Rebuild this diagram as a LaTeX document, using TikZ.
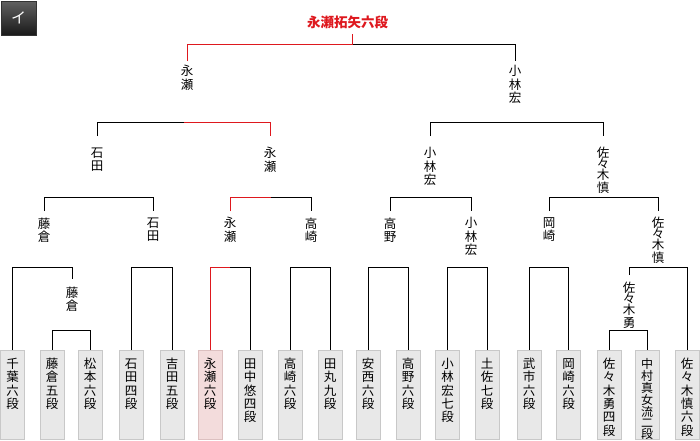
\documentclass[tikz,border=0pt]{standalone}
\usepackage{fontspec}
\usetikzlibrary{calc}
\newfontfamily\jp{Noto Sans CJK JP}
\newcommand\lblfont{\jp\fontsize{12.5}{13.3}\selectfont}
\newcommand\tightfont{\jp\fontsize{12.5}{11}\selectfont}
\newcommand\longfont{\jp\fontsize{12}{10.9}\selectfont}
\newcommand\titlefont{\jp\bfseries\fontsize{13.5}{14}\selectfont}
\definecolor{winred}{RGB}{222,24,30}
\definecolor{boxfill}{RGB}{232,232,232}
\definecolor{boxline}{RGB}{200,200,200}
\definecolor{pinkfill}{RGB}{243,220,220}
\definecolor{pinkline}{RGB}{220,192,192}
\tikzset{
  lbl/.style={font=\lblfont,align=center,anchor=north,inner xsep=0pt,inner ysep=6pt},
  tight/.style={font=\tightfont},
  player/.style={draw=boxline,fill=boxfill,font=\lblfont,text width=13pt,align=center,anchor=north,minimum width=24pt,inner xsep=0pt,inner ysep=7pt,text height=11pt,text depth=64pt},
  winbox/.style={draw=pinkline,fill=pinkfill},
  win/.style={draw=winred},
  badge/.style={draw=black!80,top color=black!62,bottom color=black!90,minimum width=35pt,minimum height=34pt,inner sep=0pt,text=white,font=\jp\fontsize{15}{15}\selectfont}
}
\begin{document}
\begin{tikzpicture}[x=1pt,y=-1pt,line width=1pt]
\useasboundingbox (0,0) rectangle (700,440);
% badge and champion
\node[badge] (badge) at (18.5,18) {イ};
\node[font=\titlefont,text=winred,inner sep=0pt] (champ) at (347.5,22) {永瀬拓矢六段};
\coordinate (stem) at (352,34);
% bracket heights
\coordinate (y0) at (0,44);
\coordinate (y1) at (0,122);
\coordinate (y2) at (0,197);
\coordinate (y3) at (0,267);
\coordinate (y4) at (0,330);
% final and semifinal
\node[lbl,inner ysep=4pt] (f1) at (187,61) {永\\瀬};
\node[lbl,inner ysep=4pt] (f2) at (515,61) {小\\林\\宏};
\node[lbl,inner ysep=11pt] (s1) at (97,136) {石\\田};
\node[lbl,inner ysep=11pt] (s2) at (270,136) {永\\瀬};
\node[lbl,inner ysep=11pt] (s3) at (430,136) {小\\林\\宏};
\node[lbl,tight,inner ysep=11pt] (s4) at (603,136) {佐\\々\\木\\慎};
% quarterfinal
\node[lbl] (q1) at (44,211) {藤\\倉};
\node[lbl] (q2) at (153,211) {石\\田};
\node[lbl] (q3) at (230,211) {永\\瀬};
\node[lbl] (q4) at (311,211) {高\\崎};
\node[lbl] (q5) at (390,211) {高\\野};
\node[lbl] (q6) at (471,211) {小\\林\\宏};
\node[lbl] (q7) at (549,211) {岡\\崎};
\node[lbl,tight] (q8) at (658,211) {佐\\々\\木\\慎};
\node[lbl,inner ysep=7pt] (e1) at (72,279) {藤\\倉};
\node[lbl,tight,inner ysep=7pt] (e2) at (629,275) {佐\\々\\木\\勇};
% players
\foreach \i/\x/\n in {1/12.5/{千\\葉\\六\\段},2/52/{藤\\倉\\五\\段},3/90/{松\\本\\六\\段},4/131/{石\\田\\四\\段},5/172/{吉\\田\\五\\段},7/250/{田\\中\\悠\\四\\段},8/290/{高\\崎\\六\\段},9/330/{田\\丸\\九\\段},10/368/{安\\西\\六\\段},11/408/{高\\野\\六\\段},12/447.5/{小\\林\\宏\\七\\段},13/487/{土\\佐\\七\\段},14/529/{武\\市\\六\\段},15/568.5/{岡\\崎\\六\\段},16/609/{佐\\々\\木\\勇\\四\\段},18/687/{佐\\々\\木\\慎\\六\\段}}
  \node[player] (p\i) at (\x,350) {\n};
\node[player,winbox] (p6) at (210,350) {永\\瀬\\六\\段};
\node[player,font=\longfont,text height=10.5pt] (p17) at (647,350) {中\\村\\真\\女\\流\\二\\段};
% brackets
\foreach \a/\b/\h in {f1/f2/y0,s1/s2/y1,s3/s4/y1,q1/q2/y2,q3/q4/y2,q5/q6/y2,q7/q8/y2,p1/e1/y3,p4/p5/y3,p6/p7/y3,p8/p9/y3,p10/p11/y3,p12/p13/y3,p14/p15/y3,e2/p18/y3,p2/p3/y4,p16/p17/y4}
  \draw (\a.north) |- (\b.north |- \h) -- (\b.north);
% winner path
\draw[win] (stem) |- (f1.north |- y0) -- (f1.north);
\draw[win] ($(s1.north |- y1)!.5!(s2.north |- y1)$) -| (s2.north);
\draw[win] (q3.north) |- ($(q3.north |- y2)!.5!(q4.north |- y2)$);
\draw[win] (p6.north) |- ($(p6.north |- y3)!.5!(p7.north |- y3)$);
\end{tikzpicture}
\end{document}
